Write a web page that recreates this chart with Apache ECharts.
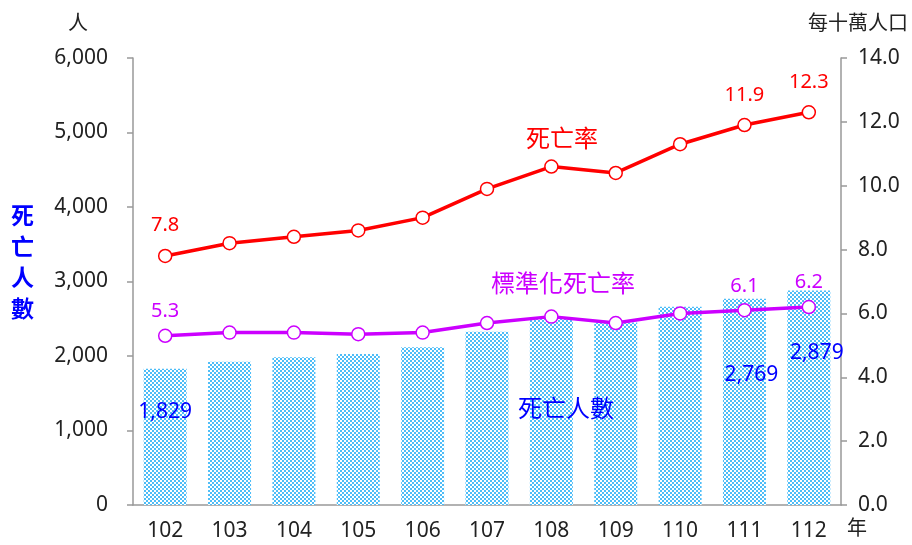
<html>
  <head>
    <meta charset="utf-8" />
    <script src="https://cdn.jsdelivr.net/npm/echarts@6/dist/echarts.min.js"></script>
  </head>
  <body>
    <style>
      html,
      body,
      #main {
        width: 100%;
        height: 100%;
        margin: 0;
        background: #fff;
      }
    </style>
    <div id="main"></div>
    <script>
      const years = ["102", "103", "104", "105", "106", "107", "108", "109", "110", "111", "112"];
      const deaths = [1829, 1924, 1982, 2027, 2117, 2326, 2510, 2450, 2662, 2769, 2879];
      const deathRate = [7.8, 8.2, 8.4, 8.6, 9.0, 9.9, 10.6, 10.4, 11.3, 11.9, 12.3];
      const stdRate = [5.3, 5.4, 5.4, 5.35, 5.4, 5.7, 5.9, 5.7, 6.0, 6.1, 6.2];
      const leftTicks = [0, 1000, 2000, 3000, 4000, 5000, 6000];
      const rightTicks = [0, 2, 4, 6, 8, 10, 12, 14];

      const font = "'Noto Sans', 'Noto Sans CJK TC', sans-serif";
      const RED = "#ff0000";
      const PURPLE = "#cc00ff";
      const BLUE = "#0000ff";
      const shown = [0, 9, 10];

      // dotted fill for the bars (blue with small white squares)
      const tile = document.createElement("canvas");
      tile.width = 4;
      tile.height = 4;
      const tc = tile.getContext("2d");
      tc.fillStyle = "#4dbdf7";
      tc.fillRect(0, 0, 4, 4);
      tc.fillStyle = "#ffffff";
      tc.fillRect(0, 0, 2, 2);
      tc.fillRect(2, 2, 2, 2);

      // per-item label placement for the three labelled bars
      const barLabelPos = { 0: [0, 33], 9: [7, 66], 10: [8, 52] };
      const barData = deaths.map(function (v, i) {
        const p = barLabelPos[i];
        if (!p) return { value: v };
        return {
          value: v,
          label: {
            show: true,
            position: "insideTop",
            distance: p[1],
            offset: [p[0], 0],
            color: BLUE,
            fontSize: 21,
            fontFamily: font,
            formatter: function (o) {
              return o.value.toLocaleString("en-US");
            },
          },
        };
      });

      var chart = echarts.init(document.getElementById("main"));

      var option = {
        animation: false,
        grid: { left: 133, right: 71, top: 58, bottom: 40 },
        xAxis: {
          type: "category",
          data: years,
          axisLine: { lineStyle: { color: "#999", width: 1.5 } },
          axisTick: { length: 8, lineStyle: { color: "#999", width: 1.5 } },
          axisLabel: { color: "#222", fontSize: 21, fontFamily: font, margin: 16 },
        },
        yAxis: [
          {
            type: "value",
            min: leftTicks[0],
            max: leftTicks[leftTicks.length - 1],
            interval: 1000,
            splitLine: { show: false },
            axisLine: { show: true, lineStyle: { color: "#999", width: 1.5 } },
            axisTick: { show: true, length: 6, lineStyle: { color: "#999", width: 1.5 } },
            axisLabel: {
              color: "#222",
              fontSize: 21,
              fontFamily: font,
              margin: 25,
              formatter: function (v) {
                return v.toLocaleString("en-US");
              },
            },
          },
          {
            type: "value",
            min: rightTicks[0],
            max: rightTicks[rightTicks.length - 1],
            interval: 2,
            splitLine: { show: false },
            axisLine: { show: true, lineStyle: { color: "#999", width: 1.5 } },
            axisTick: { show: true, length: 6, lineStyle: { color: "#999", width: 1.5 } },
            axisLabel: {
              color: "#222",
              fontSize: 21,
              fontFamily: font,
              margin: 17,
              formatter: function (v) {
                return v.toFixed(1);
              },
            },
          },
        ],
        series: [
          {
            name: "死亡人數",
            type: "bar",
            yAxisIndex: 0,
            barWidth: 43,
            itemStyle: { color: { image: tile, repeat: "repeat" } },
            data: barData,
            z: 1,
          },
          {
            name: "死亡率",
            type: "line",
            yAxisIndex: 1,
            data: deathRate,
            symbol: "circle",
            symbolSize: 13,
            lineStyle: { color: RED, width: 3.5 },
            itemStyle: { color: "#fff", borderColor: RED, borderWidth: 1.5 },
            label: {
              show: true,
              position: "top",
              distance: 13,
              color: RED,
              fontSize: 20,
              fontFamily: font,
              formatter: function (o) {
                return shown.indexOf(o.dataIndex) >= 0 ? o.value.toFixed(1) : "";
              },
            },
            z: 3,
          },
          {
            name: "標準化死亡率",
            type: "line",
            yAxisIndex: 1,
            data: stdRate,
            symbol: "circle",
            symbolSize: 13,
            lineStyle: { color: PURPLE, width: 3.5 },
            itemStyle: { color: "#fff", borderColor: PURPLE, borderWidth: 1.5 },
            label: {
              show: true,
              position: "top",
              distance: 7,
              color: PURPLE,
              fontSize: 20,
              fontFamily: font,
              formatter: function (o) {
                return shown.indexOf(o.dataIndex) >= 0 ? o.value.toFixed(1) : "";
              },
            },
            z: 3,
          },
        ],
        graphic: [
          {
            type: "text", left: 68, top: 14, z: 100,
            style: { text: "人", fill: "#222", font: "20px " + font },
          },
          {
            type: "text", left: 808, top: 14, z: 100,
            style: { text: "每十萬人口", fill: "#222", font: "20px " + font },
          },
          {
            type: "text", left: 847, top: 519, z: 100,
            style: { text: "年", fill: "#222", font: "20px " + font },
          },
          {
            type: "text", left: 11, top: 202, z: 100,
            style: { text: "死\n亡\n人\n數", fill: BLUE, font: "bold 23px " + font, lineHeight: 31 },
          },
          {
            type: "text", x: 562, y: 140, z: 100,
            style: { text: "死亡率", fill: RED, font: "24px " + font, align: "center", verticalAlign: "middle" },
          },
          {
            type: "text", x: 563, y: 285, z: 100,
            style: { text: "標準化死亡率", fill: PURPLE, font: "24px " + font, align: "center", verticalAlign: "middle" },
          },
          {
            type: "text", x: 566, y: 410, z: 100,
            style: { text: "死亡人數", fill: BLUE, font: "24px " + font, align: "center", verticalAlign: "middle" },
          },
        ],
      };

      chart.setOption(option);
      window.onresize = chart.resize;
    </script>
  </body>
</html>
